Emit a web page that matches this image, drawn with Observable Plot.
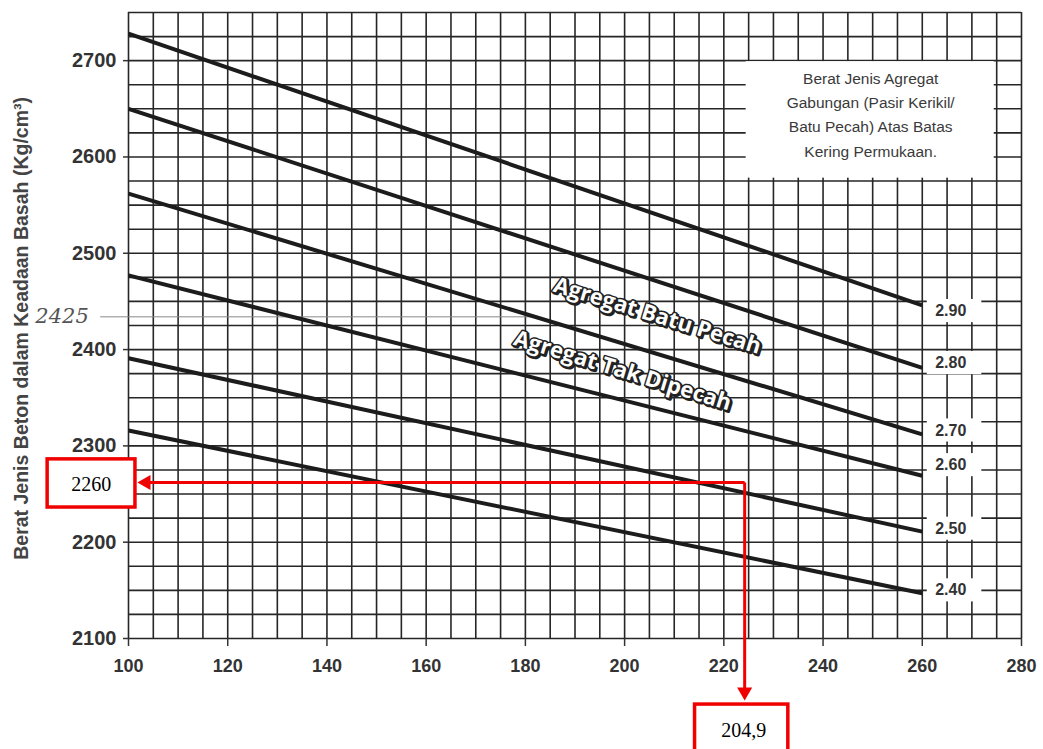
<!DOCTYPE html>
<html><head><meta charset="utf-8">
<script src="https://cdn.jsdelivr.net/npm/d3@7"></script>
<script src="https://cdn.jsdelivr.net/npm/@observablehq/plot@0.6"></script>
<style>body{margin:0;background:#fff;} #chart svg{display:block;}</style>
</head><body><div id="chart"></div>
<script>
// ---- data ----
const gravityLabels = ["2.90", "2.80", "2.70", "2.60", "2.50", "2.40"];
const waterRange = [100, 260];                                  // x extent of every curve
const weightAtStart = [2728, 2650, 2562, 2477, 2391, 2316];      // value at x = 100
const weightAtEnd = [2446, 2381, 2312, 2269, 2211, 2147];        // value at x = 260
const labelWeight = [2440, 2386, 2316, 2280, 2214, 2150];        // y of the end labels
const xTicks = [100, 120, 140, 160, 180, 200, 220, 240, 260, 280];
const yTicks = [2100, 2200, 2300, 2400, 2500, 2600, 2700];
const legendLines = ["Berat Jenis Agregat", "Gabungan (Pasir Kerikil/", "Batu Pecah) Atas Batas", "Kering Permukaan."];
const legendWeight = [2681, 2656, 2631, 2605];
const curveNames = ["Agregat Batu Pecah", "Agregat Tak Dipecah"];
const curveNameWater = [206.6, 199.6];
const curveNameWeight = [2435, 2378];
const yTitle = "Berat Jenis Beton dalam Keadaan Basah (Kg/cm³)";
const handNote = "2425";
const handNoteWeight = 2434;
const readWeight = 2262;   const readWeightLabel = "2260";
const readWater = 224.2;   const readWaterLabel = "204,9";

// ---- derived tables ----
const curves = gravityLabels.map((g, i) => ({g, x1: waterRange[0], x2: waterRange[1], y1: weightAtStart[i], y2: weightAtEnd[i], ly: labelWeight[i]}));
const xGrid = d3.range(100, 281, 5);
const yGrid = d3.range(2100, 2751, 25);

const red = "#f00000";
const gridColor = "#262626";

const chart = Plot.plot({
  width: 1043, height: 749,
  marginLeft: 128, marginRight: 22, marginTop: 12, marginBottom: 111,
  x: {domain: [100, 280], axis: null},
  y: {domain: [2100, 2750], axis: null},
  style: {background: "white", overflow: "visible"},
  marks: [
    // grid
    Plot.ruleX(xGrid, {x: d => d, y1: 2100, y2: 2750, stroke: gridColor, strokeWidth: 1.6}),
    Plot.ruleY(yGrid, {y: d => d, x1: 100, x2: 280, stroke: gridColor, strokeWidth: 1.6}),
    // legend white box
    Plot.rect([0], {x1: 224.5, x2: 274.5, y1: 2578, y2: 2699, fill: "white"}),
    // white backing for end labels
    Plot.rect(curves, {x1: 261, x2: 272, y1: d => d.ly - 12, y2: d => d.ly + 12, fill: "white"}),
    // handwritten pencil line
    Plot.ruleY([handNoteWeight], {x1: 94.4, x2: 181.6, stroke: "#888", strokeWidth: 1}),
    // curves
    Plot.link(curves, {x1: "x1", x2: "x2", y1: "y1", y2: "y2", stroke: "#1c1c1c", strokeWidth: 4}),
    // end labels
    Plot.text(curves, {x: 262.6, y: "ly", text: "g", textAnchor: "start", fontSize: 16, fontWeight: "bold", fill: "#333", fontFamily: "Liberation Sans, Arial, sans-serif"}),
    // legend text
    Plot.text(legendLines, {x: 249.6, y: (d, i) => legendWeight[i], text: d => d, fontSize: 15.5, fill: "#3a3a3a", fontFamily: "Liberation Sans, Arial, sans-serif"}),
    // curve family names (outlined)
    Plot.text(curveNames, {x: (d, i) => curveNameWater[i], y: (d, i) => curveNameWeight[i], text: d => d, rotate: 17, dx: 1.5, dy: 1.5, fontSize: 22, fontWeight: "bold", fill: "#222", stroke: "#222", strokeWidth: 3, fontFamily: "Open Sans, sans-serif"}),
    Plot.text(curveNames, {x: (d, i) => curveNameWater[i], y: (d, i) => curveNameWeight[i], text: d => d, rotate: 17, fontSize: 22, fontWeight: "bold", fill: "white", stroke: "#222", strokeWidth: 3, fontFamily: "Open Sans, sans-serif"}),
    // axes
    Plot.axisX(xTicks, {y: 2100, tickSize: 8, tickPadding: 13, tickFormat: d => String(d), fontSize: 18, fontWeight: "bold", color: "#333", strokeWidth: 1.5, fontFamily: "Liberation Sans, Arial, sans-serif", label: null}),
    Plot.axisY(yTicks, {x: 100, tickSize: 5, tickPadding: 7, tickFormat: d => String(d), fontSize: 20, fontWeight: "bold", color: "#333", strokeWidth: 1.5, fontFamily: "Liberation Sans, Arial, sans-serif", label: null}),
    // y title
    Plot.text([yTitle], {x: 78.4, y: 2422, text: d => d, rotate: -90, fontSize: 19.5, fontWeight: "bold", fill: "#444", fontFamily: "Liberation Sans, Arial, sans-serif"}),
    // handwritten note
    Plot.text([handNote], {x: 86.6, y: 2435, text: d => d, fontSize: 21, fontStyle: "italic", fill: "#555", fontFamily: "DejaVu Serif, serif"}),
    // red reading annotation
    Plot.link([0], {x1: readWater, y1: readWeight, x2: 103, y2: readWeight, stroke: red, strokeWidth: 3}),
    Plot.link([0], {x1: readWater, y1: readWeight, x2: readWater, y2: 2045, stroke: red, strokeWidth: 3}),
    Plot.dot([0], {x: 101.8, y: readWeight, symbol: "triangle", r: 5.6, rotate: -90, dx: 8.7, fill: red, stroke: "none"}),
    Plot.dot([0], {x: readWater, y: 2035.6, symbol: "triangle", r: 5.6, rotate: 180, dy: -8.7, fill: red, stroke: "none"}),
    Plot.rect([0], {x1: 83.7, x2: 101.4, y1: 2236, y2: 2286, fill: "white", stroke: red, strokeWidth: 3.5}),
    Plot.rect([0], {x1: 214.2, x2: 233.0, y1: 1970, y2: 2031.4, fill: "white", stroke: red, strokeWidth: 3.5}),
    Plot.text([readWeightLabel], {x: 92.5, y: 2260, text: d => d, fontSize: 20, fill: "black", fontFamily: "Liberation Serif, Times New Roman, serif"}),
    Plot.text([readWaterLabel], {x: 224.0, y: 2004.4, text: d => d, fontSize: 20, fill: "black", fontFamily: "Liberation Serif, Times New Roman, serif"})
  ]
});
document.getElementById("chart").appendChild(chart);
</script>
</body></html>
